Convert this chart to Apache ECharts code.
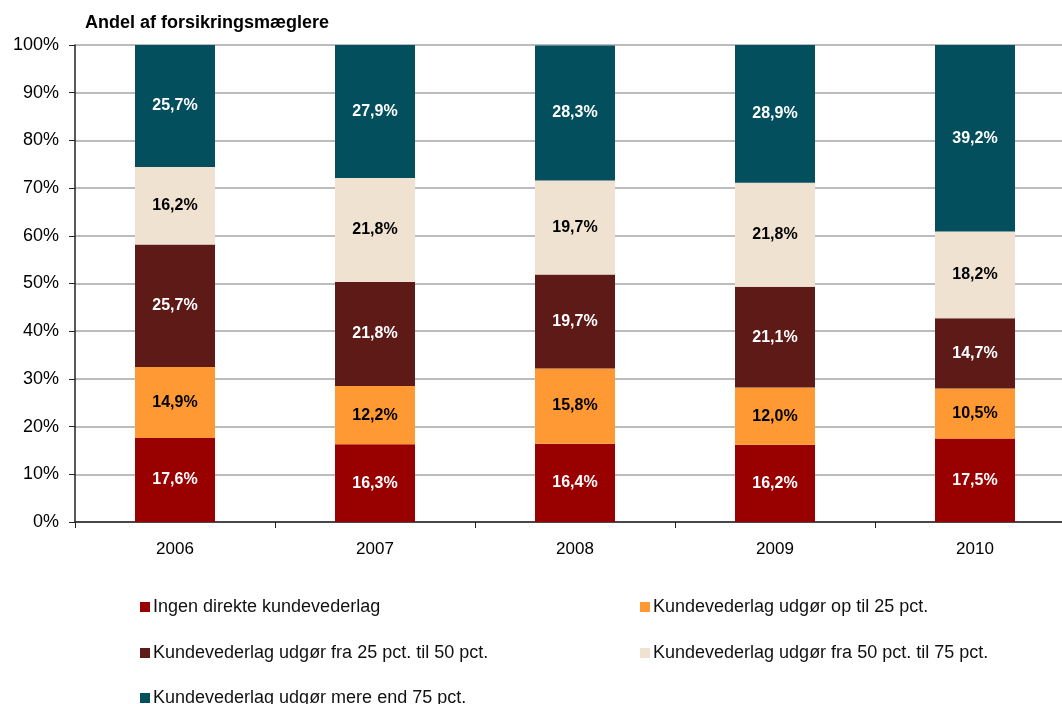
<!DOCTYPE html>
<html>
<head>
<meta charset="utf-8">
<script src="https://cdn.jsdelivr.net/npm/echarts@6/dist/echarts.min.js"></script>
<style>
  html, body { margin: 0; padding: 0; background: #fff; overflow: hidden; }
  #chart { width: 1075px; height: 704px; }
</style>
</head>
<body>
<div id="chart"></div>
<script>
// år
const years = ['2006', '2007', '2008', '2009', '2010']
// serier (andel i %)
const names = [
  'Ingen direkte kundevederlag',
  'Kundevederlag udgør op til 25 pct.',
  'Kundevederlag udgør fra 25 pct. til 50 pct.',
  'Kundevederlag udgør fra 50 pct. til 75 pct.',
  'Kundevederlag udgør mere end 75 pct.'
]
const ingen = [17.6, 16.3, 16.4, 16.2, 17.5]
const op25 = [14.9, 12.2, 15.8, 12.0, 10.5]
const fra25 = [25.7, 21.8, 19.7, 21.1, 14.7]
const fra50 = [16.2, 21.8, 19.7, 21.8, 18.2]
const mere75 = [25.7, 27.9, 28.3, 28.9, 39.2]
const yTicks = [0, 10, 20, 30, 40, 50, 60, 70, 80, 90, 100]

const colors = ['#990000', '#FF9933', '#5E1A17', '#EFE2D0', '#034F5E']
const labelColors = ['#fff', '#000', '#fff', '#000', '#fff']
const seriesData = [ingen, op25, fra25, fra50, mere75]

const font = 'Liberation Sans, Arial, sans-serif'

// legend placering: [left, top] pr. serie
const legendPos = [[140, 598], [640, 598], [140, 644], [640, 644], [140, 689]]

// diagrammet er lidt bredere end vinduet, så sidste kategori skæres af i højre side
const myChart = echarts.init(document.getElementById('chart'), null, { renderer: 'canvas' })

const option = {
  animation: false,
  color: colors,
  title: {
    text: 'Andel af forsikringsmæglere',
    left: 80,
    top: 9,
    textStyle: { fontFamily: font, fontSize: 18, fontWeight: 'bold', color: '#000' }
  },
  legend: names.map((n, i) => ({
    data: [n],
    left: legendPos[i][0],
    top: legendPos[i][1],
    padding: 0,
    itemWidth: 10,
    itemHeight: 10,
    icon: 'rect',
    textStyle: { fontFamily: font, fontSize: 18, color: '#111', padding: [0, 0, 0, -2] }
  })),
  grid: {
    left: 75,
    top: 45,
    right: 0,
    height: 477
  },
  xAxis: {
    type: 'category',
    data: years,
    axisLine: { lineStyle: { color: '#222', width: 1.5 } },
    axisTick: { show: true, alignWithLabel: false, length: 6, lineStyle: { color: '#222' } },
    axisLabel: { fontFamily: font, fontSize: 17, color: '#000', margin: 19 },
    splitLine: { show: false }
  },
  yAxis: {
    type: 'value',
    min: 0,
    max: 100,
    interval: 10,
    axisLine: { show: true, lineStyle: { color: '#222', width: 1.5 } },
    axisTick: { show: true, length: 6, lineStyle: { color: '#222' } },
    axisLabel: {
      fontFamily: font,
      fontSize: 18,
      color: '#000',
      margin: 16,
      formatter: v => (yTicks.includes(v) ? v + '%' : '')
    },
    splitLine: { show: true, lineStyle: { color: '#A6A6A6', width: 1.5 } }
  },
  series: seriesData.map((d, i) => ({
    name: names[i],
    type: 'bar',
    stack: 'total',
    barWidth: 80,
    data: d,
    itemStyle: { color: colors[i] },
    label: {
      show: true,
      position: 'inside',
      fontFamily: font,
      fontSize: 16,
      fontWeight: 'bold',
      color: labelColors[i],
      formatter: p => p.value.toFixed(1).replace('.', ',') + '%'
    }
  }))
}
myChart.setOption(option)
</script>
</body>
</html>
